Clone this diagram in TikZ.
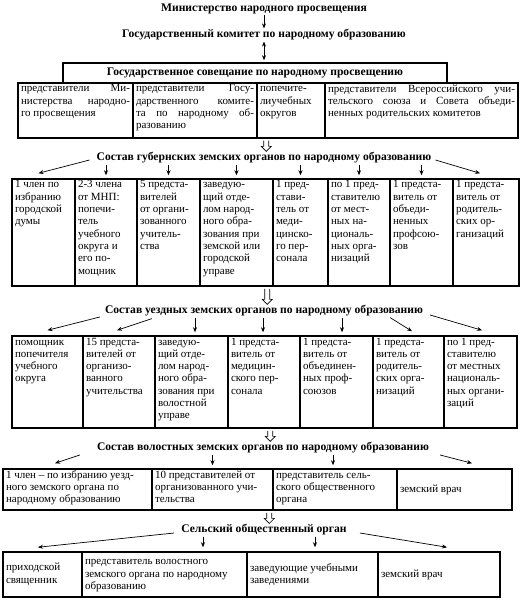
\documentclass[tikz,border=0pt]{standalone}
\usepackage{fontspec}
\setmainfont{Liberation Serif}
\usetikzlibrary{arrows.meta,calc}
\tikzset{
 cell/.style={draw, line width=1.5pt, inner xsep=3pt, inner ysep=1.5pt, font=\fontsize{11}{12.3}\selectfont},
 head/.style={font=\fontsize{11.6}{13}\selectfont\bfseries, inner sep=1pt},
 arr/.style={line width=0.7pt, -{Stealth[length=5pt,width=4pt]}},
 arrtwo/.style={line width=0.7pt, {Stealth[length=5pt,width=4pt]}-{Stealth[length=5pt,width=4pt]}},
 hollowline/.style={line width=0.6pt, fill=white},
}
\newcommand\mycell[7]{%
  \node[cell, minimum width={#3pt-#2pt}, minimum height={#5pt-#4pt}] (#1) at ({(#2+#3)/2},{(#4+#5)/2})
  {\parbox[c][\dimexpr#5pt-#4pt-3pt\relax][#6]{\dimexpr#3pt-#2pt-6pt\relax}{\rule{0pt}{7.5pt}#7}};}
\newcommand\hollowarrow[2]{%
  \draw[hollowline] ($(#1)+(-2.5,0)$) -- ($(#2)+(-2.5,-5)$) -- ($(#2)+(-5,-5)$) -- (#2)
     -- ($(#2)+(5,-5)$) -- ($(#2)+(2.5,-5)$) -- ($(#1)+(2.5,0)$);}
\begin{document}
\begin{tikzpicture}[x=1pt,y=-1pt]
\useasboundingbox (0,0) rectangle (523,609);
% top
\node[head] (t1) at (264,9) {Министерство народного просвещения};
\node[head] (t2) at (264,35) {Государственный комитет по народному образованию};
\node[draw, line width=1.5pt, minimum width=384pt, minimum height=20pt, head, inner sep=0pt] (sov) at (255,73) {Государственное совещание по народному просвещению};
\mycell{c1}{18}{133}{83}{138}{t}{представители Ми-\linebreak нистерства народно-\linebreak го просвещения}
\mycell{c2}{133}{257}{83}{138}{t}{представители Госу-\linebreak дарственного комите-\linebreak та по народному об-\linebreak разованию}
\mycell{c3}{257}{325}{83}{138}{t}{попечите-\\лиучебных\\округов}
\mycell{c4}{325}{518}{83}{138}{t}{представители Всероссийского учи-\linebreak тельского союза и Совета объеди-\linebreak ненных родительских комитетов}
% gubernia
\node[head] (hg) at (264,158) {Состав губернских земских органов по народному образованию};
\mycell{g1}{12}{75}{179}{286}{t}{1 член по\\избранию\\городской\\думы}
\mycell{g2}{75}{137}{179}{286}{t}{2-3 члена\\от МНП:\\попечи-\\тель\\учебного\\округа и\\его по-\\мощник}
\mycell{g3}{137}{200}{179}{286}{t}{5 предста-\\вителей\\от органи-\\зованного\\учитель-\\ства}
\mycell{g4}{200}{273}{179}{286}{t}{заведую-\\щий отде-\\лом народ-\\ного обра-\\зования при\\земской или\\городской\\управе}
\mycell{g5}{273}{328}{179}{286}{t}{1 пред-\\стави-\\тель от\\меди-\\цинско-\\го пер-\\сонала}
\mycell{g6}{328}{390}{179}{286}{t}{по 1 пред-\\ставителю\\от мест-\\ных на-\\циональ-\\ных орга-\\низаций}
\mycell{g7}{390}{453}{179}{286}{t}{1 предста-\\витель от\\объеди-\\ненных\\профсою-\\зов}
\mycell{g8}{453}{519}{179}{286}{t}{1 предста-\\витель от\\родитель-\\ских ор-\\ганизаций}
% uezd
\node[head] (hu) at (264,311) {Состав уездных земских органов по народному образованию};
\mycell{u1}{12}{83}{336}{428}{t}{помощник\\попечителя\\учебного\\округа}
\mycell{u2}{83}{155}{336}{428}{t}{15 предста-\\вителей от\\организо-\\ванного\\учительства}
\mycell{u3}{155}{228}{336}{428}{t}{заведую-\\щий отде-\\лом народ-\\ного обра-\\зования при\\волостной\\управе}
\mycell{u4}{228}{300}{336}{428}{t}{1 предста-\\витель от\\медицин-\\ского пер-\\сонала}
\mycell{u5}{300}{373}{336}{428}{t}{1 предста-\\витель от\\объединен-\\ных проф-\\союзов}
\mycell{u6}{373}{444}{336}{428}{t}{1 предста-\\витель от\\родитель-\\ских орга-\\низаций}
\mycell{u7}{444}{517}{336}{428}{t}{по 1 пред-\\ставителю\\от местных\\националь-\\ных органи-\\заций}
% volost
\node[head] (hv) at (263,448) {Состав волостных земских органов по народному образованию};
\mycell{v1}{3}{152}{469}{510}{t}{1 член – по избранию уезд-\\ного земского органа по\\народному образованию}
\mycell{v2}{152}{273}{469}{510}{t}{10 представителей от\\организованного учи-\\тельства}
\mycell{v3}{273}{397}{469}{510}{t}{представитель сель-\\ского общественного\\органа}
\mycell{v4}{397}{512}{469}{510}{c}{земский врач}
% village
\node[head] (hs) at (264,530) {Сельский общественный орган};
\mycell{s1}{3}{82}{552}{597}{c}{приходской\\священник}
\mycell{s2}{82}{247}{552}{597}{c}{представитель волостного\\земского органа по народному\\образованию}
\mycell{s3}{247}{378}{552}{597}{c}{заведующие учебными\\заведениями}
\mycell{s4}{378}{500}{552}{597}{c}{земский врач}
% connectors top
\draw[arr] (t1.south) -- (t2.north);
\draw[arrtwo, shorten >=2pt] (t2.south) -- (t2.south |- sov.north);
% hollow arrows
\coordinate (h1) at ($(c3.south west)+(10,2)$);
\hollowarrow{h1}{h1 |- hg.north}
\coordinate (h2) at ($(g5.south west)+(-5,2)$);
\hollowarrow{h2}{h2 |- hu.north}
\coordinate (h3) at ($(u4.south west)+(43,2)$);
\hollowarrow{h3}{h3 |- hv.north}
\coordinate (h4) at ($(v3.south west)+(-3,2)$);
\hollowarrow{h4}{h4 |- hs.north}
% gubernia arrows
\draw[arr] ($(hg.west)+(-6,2)$) -- ($(g1.north)+(-5,-5)$);
\foreach \c in {g2,g3,g4,g5,g6,g7}
  \draw[arr] (hg.south -| \c.north) -- ($(\c.north)+(0,-3)$);
\draw[arr] ($(hg.east)+(3,2)$) -- ($(g8.north)+(-6,-5)$);
% uezd arrows
\draw[arr] ($(hu.west)+(-4,6)$) -- ($(u1.north)+(0,-5)$);
\draw[arr] ($(hu.south west)+(48,1)$) -- ($(u2.north)+(-2,-5)$);
\draw[arr] ($(hu.south -| u3.north)+(3.5,0)$) -- ($(u3.north)+(3.5,-3)$);
\draw[arr] ($(hu.south -| u4.north)+(-1,0)$) -- ($(u4.north)+(-1,-3)$);
\draw[arr] ($(hu.south -| u5.north)+(5.5,0)$) -- ($(u5.north)+(5.5,-3)$);
\draw[arr] ($(hu.south east)+(-34,0)$) -- ($(u6.north)+(3.5,-4)$);
\draw[arr] ($(hu.east)+(6,4)$) -- ($(u7.north)+(1.5,-5)$);
% volost arrows
\draw[arr] ($(hv.west)+(-16,7)$) -- ($(v1.north)+(-22.5,-5)$);
\draw[arr] (hv.south -| v2.north) -- ($(v2.north)+(0,-3)$);
\draw[arr] ($(hv.south -| v3.north)+(-2,0)$) -- ($(v3.north)+(-2,-3)$);
\draw[arr] ($(hv.east)+(10,7)$) -- ($(v4.north)+(17.5,-5)$);
% village arrows
\draw[arr] ($(hs.west)+(-6,3)$) -- ($(s1.north)+(-4.5,-4)$);
\draw[arr] ($(hs.south -| s2.north)+(38.5,0)$) -- ($(s2.north)+(38.5,-4)$);
\draw[arr] ($(hs.south -| s3.north)+(2.5,0)$) -- ($(s3.north)+(2.5,-4)$);
\draw[arr] ($(hs.east)+(12,3)$) -- ($(s4.north)+(8,-4)$);
\end{tikzpicture}
\end{document}
